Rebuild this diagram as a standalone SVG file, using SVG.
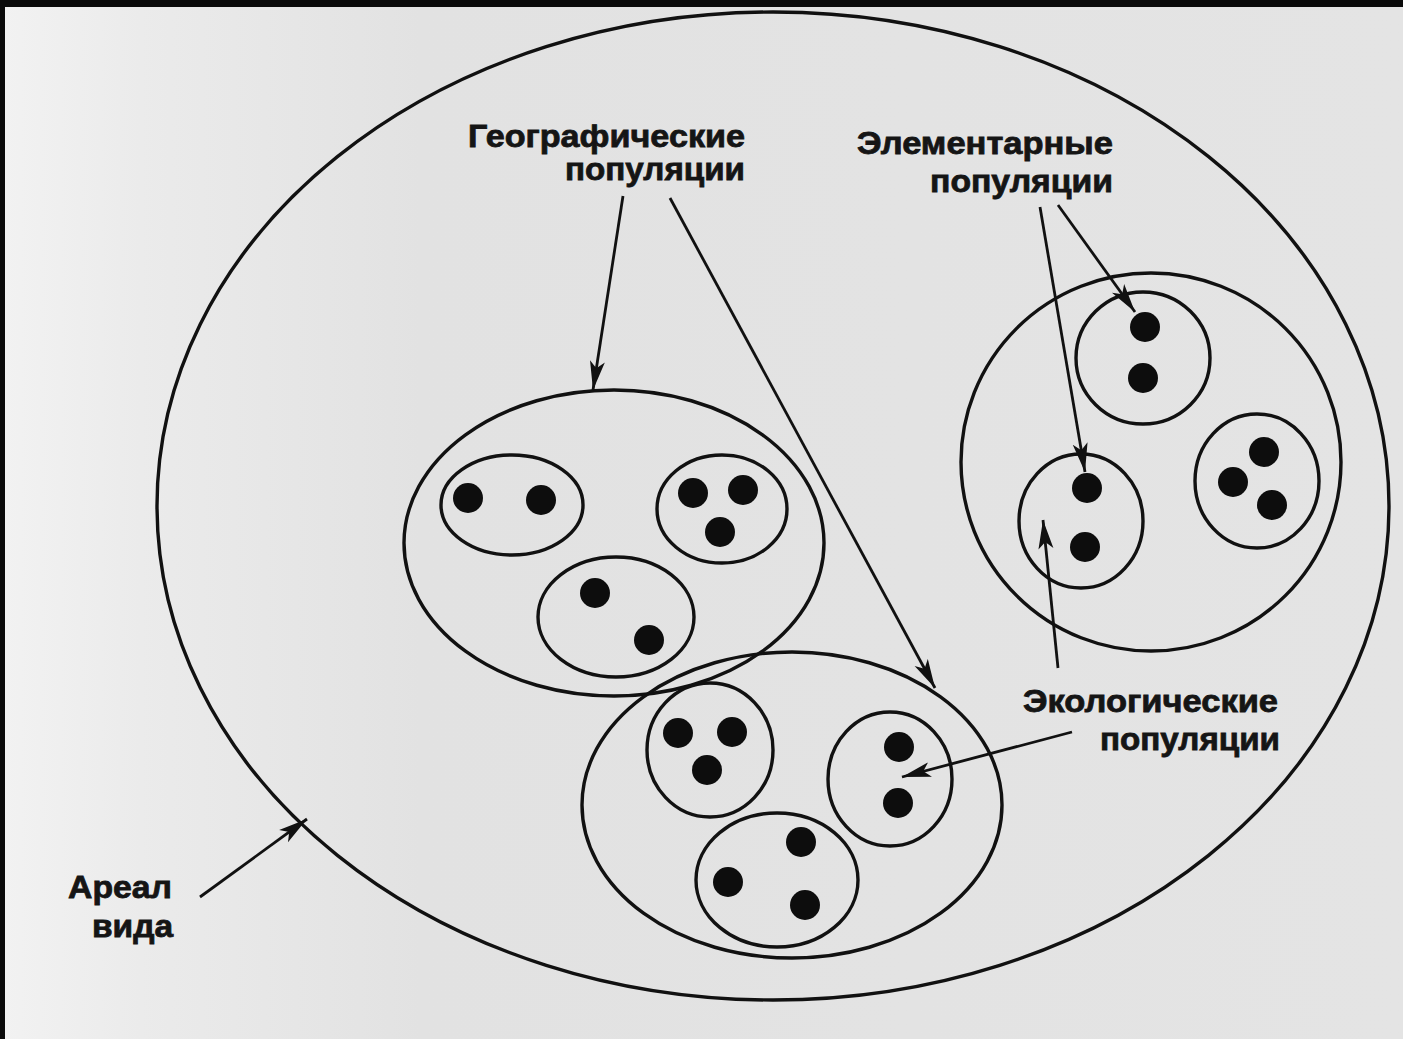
<svg xmlns="http://www.w3.org/2000/svg" width="1403" height="1039" viewBox="0 0 1403 1039">
<defs>
<linearGradient id="bg" x1="0" y1="0" x2="1" y2="0">
<stop offset="0" stop-color="#f2f2f2"/>
<stop offset="0.1" stop-color="#ebebeb"/>
<stop offset="0.3" stop-color="#e2e2e2"/>
<stop offset="1" stop-color="#e4e4e4"/>
</linearGradient>
<marker id="ah" markerUnits="userSpaceOnUse" markerWidth="30" markerHeight="18" viewBox="0 0 30 18" refX="29" refY="9" orient="auto">
<path d="M0,1.5 L29,9 L0,16.5 L7,9 z" fill="#111"/>
</marker>
<style>
.ring{fill:none;stroke:#111;stroke-width:3.4}
.dot{fill:#0d0d0d}
.lbl{font-family:"Liberation Sans",Arial,sans-serif;font-weight:bold;font-size:32px;fill:#151515;stroke:#151515;stroke-width:0.8;text-anchor:end}
.arr{fill:none;stroke:#111;stroke-width:2.8;marker-end:url(#ah)}
</style>
</defs>
<rect x="0" y="0" width="1403" height="1039" fill="url(#bg)"/>
<rect x="0" y="0" width="1403" height="7" fill="#0a0a0a"/>
<rect x="0" y="0" width="5" height="1039" fill="#0a0a0a"/>

<g id="areal"><ellipse class="ring" cx="773" cy="506" rx="616" ry="494"/></g>

<g id="geo1">
<ellipse class="ring" cx="614" cy="543" rx="210" ry="153"/>
<g id="eco1a"><ellipse class="ring" cx="512" cy="505" rx="71" ry="50"/><circle class="dot" cx="468" cy="498" r="15"/><circle class="dot" cx="541" cy="500" r="15"/></g>
<g id="eco1b"><ellipse class="ring" cx="722" cy="509" rx="65" ry="54"/><circle class="dot" cx="693" cy="493" r="15"/><circle class="dot" cx="743" cy="490" r="15"/><circle class="dot" cx="720" cy="532" r="15"/></g>
<g id="eco1c"><ellipse class="ring" cx="616" cy="617" rx="78" ry="60"/><circle class="dot" cx="595" cy="593" r="15"/><circle class="dot" cx="649" cy="640" r="15"/></g>
</g>

<g id="geo2">
<ellipse class="ring" cx="792" cy="805" rx="210" ry="153"/>
<g id="eco2a"><ellipse class="ring" cx="710" cy="750" rx="63" ry="67"/><circle class="dot" cx="678" cy="733" r="15"/><circle class="dot" cx="732" cy="732" r="15"/><circle class="dot" cx="707" cy="770" r="15"/></g>
<g id="eco2b"><ellipse class="ring" cx="890" cy="779" rx="62" ry="67"/><circle class="dot" cx="899" cy="747" r="15"/><circle class="dot" cx="898" cy="803" r="15"/></g>
<g id="eco2c"><ellipse class="ring" cx="777" cy="880" rx="81" ry="67"/><circle class="dot" cx="801" cy="842" r="15"/><circle class="dot" cx="728" cy="882" r="15"/><circle class="dot" cx="805" cy="905" r="15"/></g>
</g>

<g id="geo3">
<ellipse class="ring" cx="1151" cy="462" rx="190" ry="189"/>
<g id="eco3a"><ellipse class="ring" cx="1143" cy="358" rx="67" ry="66"/><circle class="dot" cx="1145" cy="327" r="15"/><circle class="dot" cx="1143" cy="378" r="15"/></g>
<g id="eco3b"><ellipse class="ring" cx="1081" cy="521" rx="62" ry="67"/><circle class="dot" cx="1087" cy="488" r="15"/><circle class="dot" cx="1085" cy="547" r="15"/></g>
<g id="eco3c"><ellipse class="ring" cx="1257" cy="481" rx="62" ry="67"/><circle class="dot" cx="1264" cy="452" r="15"/><circle class="dot" cx="1233" cy="482" r="15"/><circle class="dot" cx="1272" cy="505" r="15"/></g>
</g>

<g id="connectors">
<line class="arr" x1="623" y1="196" x2="593" y2="390"/>
<line class="arr" x1="670" y1="198" x2="935" y2="688"/>
<line class="arr" x1="1040" y1="207" x2="1085" y2="472"/>
<line class="arr" x1="1058" y1="205" x2="1135" y2="312"/>
<line class="arr" x1="1058" y1="668" x2="1043" y2="520"/>
<line class="arr" x1="1072" y1="732" x2="902" y2="777"/>
<line class="arr" x1="200" y1="897" x2="307" y2="819"/>
</g>

<g id="labels">
<text class="lbl" x="745" y="147" textLength="277" lengthAdjust="spacingAndGlyphs">Географические</text>
<text class="lbl" x="745" y="180" textLength="180" lengthAdjust="spacingAndGlyphs">популяции</text>
<text class="lbl" x="1113" y="154" textLength="256" lengthAdjust="spacingAndGlyphs">Элементарные</text>
<text class="lbl" x="1113" y="192" textLength="183" lengthAdjust="spacingAndGlyphs">популяции</text>
<text class="lbl" x="1278" y="712" textLength="255" lengthAdjust="spacingAndGlyphs">Экологические</text>
<text class="lbl" x="1280" y="750" textLength="180" lengthAdjust="spacingAndGlyphs">популяции</text>
<text class="lbl" x="172" y="898" textLength="104" lengthAdjust="spacingAndGlyphs">Ареал</text>
<text class="lbl" x="173" y="937" textLength="81" lengthAdjust="spacingAndGlyphs">вида</text>
</g>
</svg>
